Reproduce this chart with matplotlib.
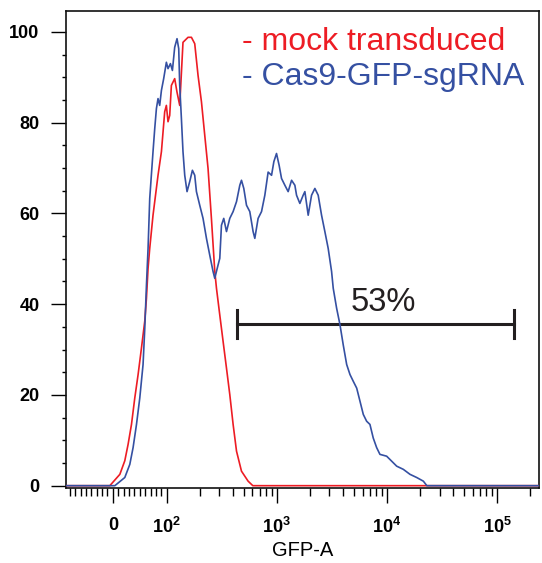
import numpy as np
import matplotlib
matplotlib.use("Agg")
import matplotlib.pyplot as plt

plt.rcParams['font.family'] = ['Liberation Sans', 'DejaVu Sans']
plt.rcParams['mathtext.fontset'] = 'custom'
plt.rcParams['mathtext.rm'] = 'Liberation Sans'

# mock transduced histogram (GFP-A, % of max)
mock_x = [-87, -5.6, 13.0, 22.2, 28.3, 34.6, 40.7, 46.9, 53.1, 59.3, 62.4, 65.4,
          68.5, 74.6, 83.9, 90.2, 96.3, 99.4, 102.8, 106.5, 110.3, 118.2, 124.1,
          131.3, 140.6, 156.2, 167.7, 179.7, 192.6, 206.8, 221.6, 237.4, 254.7,
          273.1, 283.1, 303.4, 325.1, 349.0, 373.9, 400.9, 430.5, 477.5, 548.3,
          605.3, 262143]
mock_y = [0, 0, 2.5, 5.5, 9.1, 13.5, 19.3, 24.5, 30.3, 36.3, 41.3, 47.9,
          52.3, 59.6, 68.4, 73.6, 82.4, 83.8, 80.2, 81.6, 88.2, 89.7, 86.7,
          83.8, 97.7, 98.8, 98.8, 97.4, 90.4, 84.6, 77.2, 69.9, 58.9,
          47.3, 43.5, 37.6, 31.8, 25.9, 20.1, 13.5, 7.6, 3.2, 1.0,
          0, 0]

# Cas9-GFP-sgRNA histogram
cas9_x = [-87, 3.7, 22.2, 31.5, 37.6, 43.9, 50.0, 56.1, 59.3, 62.4, 65.4, 68.5,
          74.6, 77.8, 80.9, 83.9, 87.0, 90.2, 94.4, 99.4, 102.8, 108.1, 112.7,
          118.2, 124.1, 128.6, 131.3, 136.0, 140.6, 145.8, 153.0, 161.8, 171.2,
          179.7, 186.2, 199.5, 213.8, 229.6, 246.0, 263.6, 273.1, 292.5, 303.4,
          314.2, 329.6, 349.0, 373.9, 400.9, 430.5, 461.0, 477.5, 501.2, 530.3,
          568.1, 608.8, 631.0, 676.1, 726.1, 778.0, 833.7, 895.4, 939.6, 993.2,
          1049, 1103, 1183, 1267, 1361, 1458, 1510, 1618, 1734, 1797, 1926,
          2066, 2215, 2374, 2547, 2729, 2925, 3141, 3251, 3490, 3741, 4009,
          4306, 4613, 4943, 5309, 5689, 6095, 6536, 7003, 7504, 8054, 8630,
          9931, 11032, 12250, 14070, 16180, 18620, 21380, 23010, 262143]
cas9_y = [0, 0, 1.8, 4.7, 8.4, 13.5, 19.3, 26.7, 34.7, 44.2, 52.3, 63.3,
          73.6, 78.7, 83.1, 85.3, 83.8, 87.1, 89.7, 93.3, 91.9, 93.0, 91.5,
          96.6, 98.5, 96.3, 88.2, 80.9, 73.6, 68.4, 64.8, 67.0, 69.5,
          68.4, 64.8, 61.8, 58.9, 54.5, 50.8, 47.2, 45.7, 48.6, 50.1,
          57.4, 58.9, 56.0, 58.9, 60.4, 62.6, 66.2, 67.3, 65.5, 61.8,
          60.4, 56.0, 54.5, 58.9, 60.4, 64.0, 69.1, 68.4, 71.4, 73.2,
          70.6, 67.7, 66.2, 64.8, 67.3, 66.2, 64.0, 62.2, 64.0, 64.8, 59.6,
          64.0, 65.5, 64.0, 59.6, 56.0, 52.3, 47.2, 43.5, 39.1, 35.5, 31.0,
          26.7, 24.5, 23.0, 21.5, 18.6, 15.7, 14.2, 13.5, 10.5, 8.4, 6.9,
          6.5, 5.4, 4.3, 3.6, 2.5, 1.8, 1.0, 0, 0]

# gate
gate_lo, gate_hi, gate_y = 433, 143000, 35.7
gate_text = "53%"

xtick_vals = [0, 100, 1000, 10000, 100000]
xtick_labels = ['0', r'$\mathregular{10^2}$', r'$\mathregular{10^3}$',
                r'$\mathregular{10^4}$', r'$\mathregular{10^5}$']
xminor = ([-v for v in range(10, 90, 10)] + list(range(10, 100, 10))
          + [m * 10 ** e for e in (2, 3, 4) for m in range(2, 10)] + [200000])

red = '#ed1c24'
blue = '#3550a2'

fig = plt.figure(figsize=(5.42, 5.63), dpi=100)
ax = fig.add_axes([66 / 542, 1 - 487.5 / 563, 473 / 542, 476.5 / 563])

ax.plot(mock_x, mock_y, color=red, lw=1.2, zorder=3)
ax.plot(cas9_x, cas9_y, color=blue, lw=1.2, zorder=3)

ax.set_xscale('symlog', linthresh=100, linscale=0.44)
ax.set_xlim(-87, 240000)
ax.set_ylim(-0.4, 104.6)

# gate bar
ax.plot([gate_lo, gate_hi], [gate_y, gate_y], color='#231f20', lw=2.2)
for gx in (gate_lo, gate_hi):
    ax.plot([gx, gx], [gate_y - 3.1, gate_y + 3.1], color='#231f20', lw=2.2)
ax.text(9200, 40.4, gate_text, ha='center', va='center', fontsize=23.5, color='#231f20')

ax.text(0.372, 0.935, '- mock transduced', transform=ax.transAxes, color=red,
        fontsize=23, va='center', ha='left')
ax.text(0.372, 0.861, '- Cas9-GFP-sgRNA', transform=ax.transAxes, color=blue,
        fontsize=23, va='center', ha='left')

ax.set_xticks(xtick_vals)
ax.set_xticklabels(xtick_labels)
ax.set_xticks(xminor, minor=True)
ax.set_yticks(range(0, 101, 20))
ax.set_yticks(range(0, 101, 5), minor=True)

ax.tick_params(axis='both', which='major', direction='out', width=1, length=11,
               labelsize=13, pad=8)
ax.tick_params(axis='x', which='major', pad=10)
ax.tick_params(axis='x', which='minor', direction='out', width=1, length=6)
ax.tick_params(axis='y', which='minor', direction='out', width=1, length=3)
for lab in ax.get_xticklabels() + ax.get_yticklabels():
    lab.set_fontweight('bold')

for s in ax.spines.values():
    s.set_linewidth(1.2)
    s.set_color('#111111')

ax.set_xlabel('GFP-A', fontsize=14.5, labelpad=3)

fig.savefig('out.png', dpi=100)
